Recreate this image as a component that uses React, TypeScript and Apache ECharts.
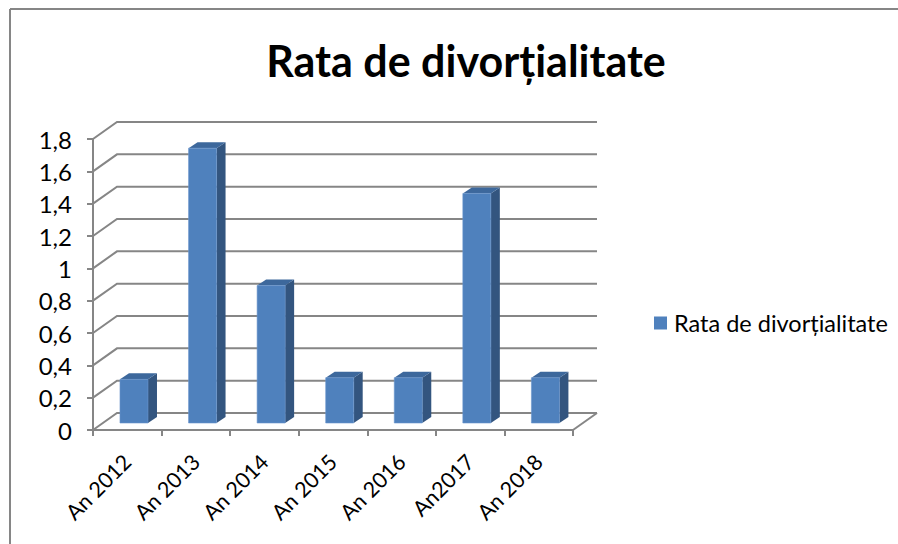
import React, { useEffect, useRef } from 'react';
import * as echarts from 'echarts';

const titleText = 'Rata de divorțialitate';
const seriesName = 'Rata de divorțialitate';
const categories = ['An 2012', 'An 2013', 'An 2014', 'An 2015', 'An 2016', 'An2017', 'An 2018'];
const values = [0.27, 1.7, 0.85, 0.28, 0.28, 1.42, 0.28];
const yTicks = [0, 0.2, 0.4, 0.6, 0.8, 1, 1.2, 1.4, 1.6, 1.8];

const FONT = 'Lato';
const GRID_COLOR = '#868686';
const FRONT = '#4F81BD';
const SIDE = '#33557F';
const TOP = '#3D689C';

export default function App() {
  const ref = useRef<HTMLDivElement>(null);
  useEffect(() => {
    document.body.style.margin = '0';
    const chart = echarts.init(ref.current as HTMLDivElement, null, { renderer: 'svg' });
    const DX = 24;
    const DY = -17;
    const option: any = {
      animation: false,
      backgroundColor: '#ffffff',
      textStyle: { fontFamily: FONT },
      grid: { left: 93, top: 139, width: 480, height: 291, containLabel: false, outerBoundsMode: 'none' },
      xAxis: {
        type: 'category',
        data: categories,
        axisLine: { show: true, lineStyle: { color: GRID_COLOR, width: 2 } },
        axisTick: { show: true, length: 6, lineStyle: { color: GRID_COLOR, width: 2 } },
        axisLabel: { show: true, interval: 0, rotate: 45, margin: 28, fontSize: 21.5, color: '#000', fontFamily: FONT },
        splitLine: { show: false },
      },
      yAxis: {
        type: 'value',
        min: 0,
        max: 1.8,
        interval: 0.2,
        axisLine: { show: true, lineStyle: { color: GRID_COLOR, width: 2 } },
        axisTick: { show: true, length: 6, lineStyle: { color: GRID_COLOR, width: 2 } },
        splitLine: { show: false },
        axisLabel: {
          margin: 21,
          fontSize: 24,
          color: '#000',
          fontFamily: FONT,
          formatter: (v: number) => String(Number(v.toFixed(1))).replace('.', ','),
        },
      },
      legend: {
        data: [seriesName],
        left: 649,
        top: 306,
        orient: 'vertical',
        icon: 'rect',
        itemWidth: 13,
        itemHeight: 13,
        textStyle: { fontSize: 23.5, color: '#000', fontFamily: FONT, padding: [0, 0, 0, 2] },
      },
      graphic: [
        { type: 'line', shape: { x1: 10, y1: 9, x2: 898, y2: 9 }, style: { stroke: '#868686', lineWidth: 2 } },
        { type: 'line', shape: { x1: 10, y1: 9, x2: 10, y2: 544 }, style: { stroke: '#868686', lineWidth: 2 } },
        {
          type: 'text',
          x: 466,
          y: 60,
          style: {
            text: titleText,
            textAlign: 'center',
            textVerticalAlign: 'middle',
            fontSize: 43,
            fontWeight: 'bold',
            fontFamily: FONT,
            fill: '#000',
          },
        },
      ],
      series: [
        {
          type: 'custom',
          name: 'grid3d',
          silent: true,
          z: 1,
          data: yTicks.map((v) => [0, v]),
          encode: { x: 0, y: 1 },
          renderItem: (params: any, api: any) => {
            const v = api.value(1);
            const p = api.coord([0, v]);
            const cs = params.coordSys;
            const x0 = cs.x;
            const y = p[1];
            const children: any[] = [
              {
                type: 'polyline',
                shape: { points: [[x0, y], [x0 + DX, y + DY], [x0 + cs.width + DX, y + DY]] },
                style: { stroke: GRID_COLOR, lineWidth: 2, fill: 'none' },
              },
            ];
            if (v === 0) {
              children.push({
                type: 'line',
                shape: { x1: x0 + cs.width, y1: y, x2: x0 + cs.width + DX, y2: y + DY },
                style: { stroke: GRID_COLOR, lineWidth: 2 },
              });
            }
            return { type: 'group', children };
          },
        },
        {
          type: 'custom',
          name: seriesName,
          z: 2,
          itemStyle: { color: FRONT },
          data: values.map((v, i) => [i, v]),
          encode: { x: 0, y: 1 },
          renderItem: (params: any, api: any) => {
            const i = api.value(0);
            const v = api.value(1);
            const b = api.coord([i, 0]);
            const t = api.coord([i, v]);
            const W = 28;
            const sx = 9;
            const sy = -6;
            const fx = b[0] + 6.7 - W / 2;
            const yb = b[1] - 7;
            const yt = t[1] - 7;
            return {
              type: 'group',
              children: [
                {
                  type: 'polygon',
                  shape: { points: [[fx + W, yt], [fx + W + sx, yt + sy], [fx + W + sx, yb + sy], [fx + W, yb]] },
                  style: { fill: SIDE },
                },
                {
                  type: 'polygon',
                  shape: { points: [[fx, yt], [fx + sx, yt + sy], [fx + W + sx, yt + sy], [fx + W, yt]] },
                  style: { fill: TOP },
                },
                {
                  type: 'rect',
                  shape: { x: fx, y: yt, width: W, height: yb - yt },
                  style: { fill: FRONT, stroke: '#6A96CC', lineWidth: 0.6 },
                },
              ],
            };
          },
        },
      ],
    };
    chart.setOption(option);
    return () => chart.dispose();
  }, []);
  return <div ref={ref} style={{ position: 'fixed', left: 0, top: 0, width: 898, height: 544 }} />;
}
